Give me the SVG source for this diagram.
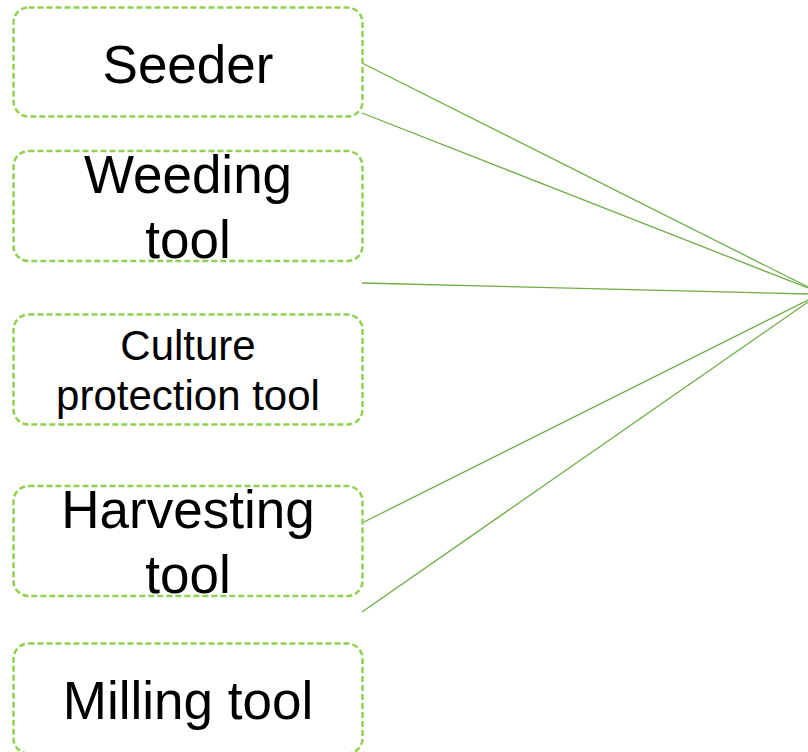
<svg xmlns="http://www.w3.org/2000/svg" width="808" height="752" viewBox="0 0 808 752">
<style>
.box{fill:#fff;stroke:#92D050;stroke-width:2.5;stroke-dasharray:6 3}
.t{font-family:"Liberation Sans",Arial,sans-serif;fill:#000;text-anchor:middle}
.big{font-size:53px}
.mid{font-size:42px}
.c{stroke:#70AD47;stroke-width:1.3;fill:none}
</style>
<rect width="808" height="752" fill="#fff"/>
<g id="connectors">
<line class="c" x1="362" y1="63" x2="808" y2="287"/>
<line class="c" x1="362" y1="113" x2="808" y2="288"/>
<line class="c" x1="362" y1="283" x2="808" y2="294"/>
<line class="c" x1="362" y1="523" x2="808" y2="300"/>
<line class="c" x1="362" y1="612" x2="808" y2="302"/>
</g>
<g id="seeder">
<rect class="box" x="13.5" y="7.5" width="349" height="109" rx="15"/>
<text class="t big" x="188" y="83">Seeder</text>
</g>
<g id="weeding">
<rect class="box" x="13.5" y="151" width="349" height="110" rx="15"/>
<text class="t big" x="188" y="193">Weeding</text>
<text class="t big" x="188" y="258">tool</text>
</g>
<g id="culture">
<rect class="box" x="13.5" y="314.5" width="349" height="110" rx="15"/>
<text class="t mid" x="188" y="360">Culture</text>
<text class="t mid" x="188" y="410">protection tool</text>
</g>
<g id="harvesting">
<rect class="box" x="13.5" y="486" width="349" height="110" rx="15"/>
<text class="t big" x="188" y="528">Harvesting</text>
<text class="t big" x="188" y="593">tool</text>
</g>
<g id="milling">
<rect class="box" x="13.5" y="643.5" width="349" height="110" rx="15"/>
<text class="t big" x="188" y="719">Milling tool</text>
</g>
</svg>
